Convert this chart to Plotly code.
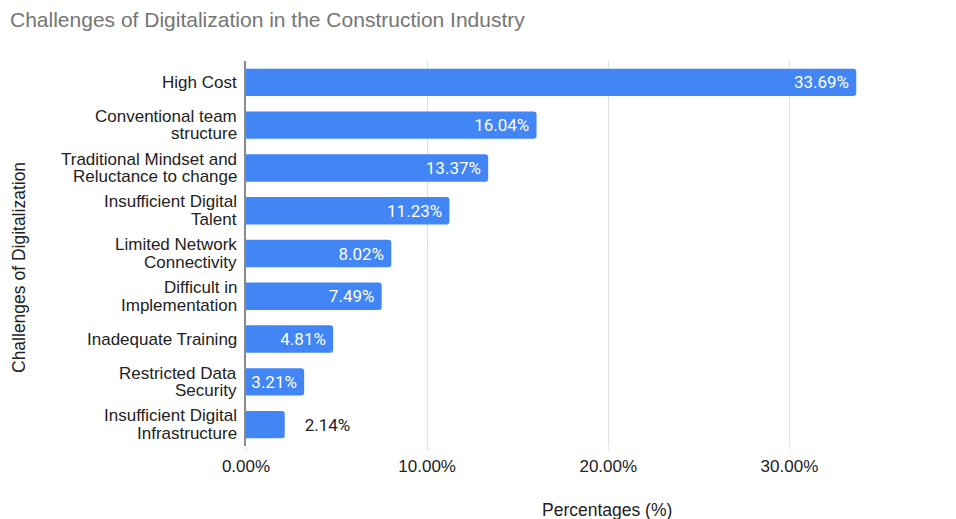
import plotly.graph_objects as go

categories = [
    "High Cost",
    "Conventional team<br>structure",
    "Traditional Mindset and<br>Reluctance to change",
    "Insufficient Digital<br>Talent",
    "Limited Network<br>Connectivity",
    "Difficult in<br>Implementation",
    "Inadequate Training",
    "Restricted Data<br>Security",
    "Insufficient Digital<br>Infrastructure",
]
values = [33.69, 16.04, 13.37, 11.23, 8.02, 7.49, 4.81, 3.21, 2.14]
tick_vals = [0, 10, 20, 30]
tick_text = ["0.00%", "10.00%", "20.00%", "30.00%"]

W, H = 956, 519
L, R, T, B = 246, 76, 61, 73
FONT = "Liberation Sans, Arial, Helvetica"

labels = [f"{v:.2f}%\u00a0" for v in values]
positions = ["inside"] * (len(values) - 1) + ["outside"]
labels[-1] = "\u00a0\u00a0\u00a0\u00a0" + f"{values[-1]:.2f}%"

fig = go.Figure(
    go.Bar(
        x=values,
        y=categories,
        orientation="h",
        marker=dict(color="#4285F4", cornerradius=3, line=dict(width=0)),
        width=0.64,
        text=labels,
        textposition=positions,
        insidetextanchor="end",
        insidetextfont=dict(family="Roboto, Arial", size=17, color="#ffffff"),
        outsidetextfont=dict(family="Roboto, Arial", size=17, color="#222222"),
        cliponaxis=False,
        hoverinfo="skip",
    )
)

# category labels drawn as per-line annotations (tighter line spacing)
annotations = []
LINE = 17.5
for cat in categories:
    lines = cat.split("<br>")
    n = len(lines)
    for i, ln in enumerate(lines):
        annotations.append(
            dict(
                text=ln,
                xref="paper",
                yref="y",
                x=0,
                y=cat,
                xanchor="right",
                yanchor="middle",
                xshift=-7,
                yshift=((n - 1) / 2 - i) * LINE,
                showarrow=False,
                font=dict(family=FONT, size=17, color="#222222"),
            )
        )

annotations += [
    dict(
        text="Percentages (%)",
        xref="paper",
        yref="paper",
        x=(607 - L) / (W - L - R),
        y=-(510 - (H - B)) / (H - T - B),
        xanchor="center",
        yanchor="middle",
        showarrow=False,
        font=dict(family=FONT, size=17.5, color="#222222"),
    ),
    dict(
        text="Challenges of Digitalization",
        xref="paper",
        yref="paper",
        x=-(L - 19) / (W - L - R),
        y=1 - (268 - T) / (H - T - B),
        xanchor="center",
        yanchor="middle",
        textangle=-90,
        showarrow=False,
        font=dict(family=FONT, size=17.5, color="#222222"),
    ),
]

fig.update_layout(
    width=W,
    height=H,
    margin=dict(l=L, r=R, t=T, b=B),
    paper_bgcolor="white",
    plot_bgcolor="white",
    showlegend=False,
    font=dict(family=FONT, size=17, color="#222222"),
    title=dict(
        text="Challenges of Digitalization in the Construction Industry",
        x=10 / W,
        xanchor="left",
        xref="container",
        y=1 - 20 / H,
        yanchor="middle",
        yref="container",
        font=dict(family=FONT, size=21, color="#757575"),
    ),
    xaxis=dict(
        range=[0, 35],
        tickvals=tick_vals,
        ticktext=tick_text,
        showgrid=True,
        gridcolor="#e0e0e0",
        gridwidth=1,
        zeroline=False,
        showline=False,
        ticks="outside",
        ticklen=3,
        tickcolor="#e0e0e0",
        tickfont=dict(family=FONT, size=17, color="#222222"),
        ticklabelstandoff=2,
        fixedrange=True,
    ),
    yaxis=dict(
        autorange="reversed",
        showgrid=False,
        showline=True,
        linecolor="#8a8a8a",
        linewidth=1.5,
        ticks="",
        showticklabels=False,
        fixedrange=True,
    ),
    annotations=annotations,
)

fig.write_html("out.html")
